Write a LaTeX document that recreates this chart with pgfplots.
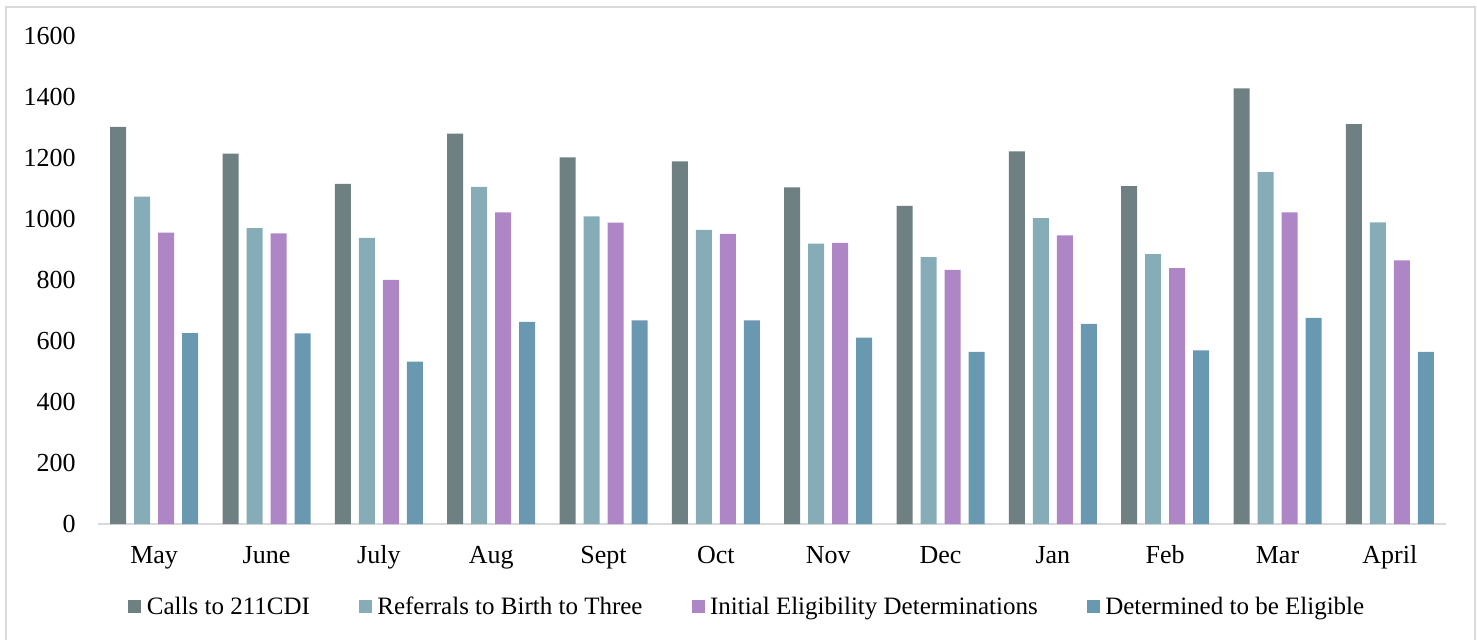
\documentclass[border=0pt]{standalone}
\usepackage{fontspec}
\setmainfont{Liberation Serif}
\usepackage{graphicx}
\usepackage{pgfplots}
\pgfplotsset{compat=1.18}
\definecolor{cCalls}{RGB}{111,128,130}
\definecolor{cRef}{RGB}{134,173,183}
\definecolor{cInit}{RGB}{175,134,197}
\definecolor{cDet}{RGB}{105,152,177}
\definecolor{frame}{RGB}{217,217,217}
\begin{document}
\begin{tikzpicture}
\path[use as bounding box] (0,0) rectangle (738.5pt,-320pt);
\draw[color=frame, line width=1pt] (3pt,-320pt) -- (3pt,-3.5pt) -- (737.5pt,-3.5pt) -- (737.5pt,-320pt);
\begin{axis}[
  at={(49pt,-262pt)}, anchor=south west,
  scale only axis, width=674pt, height=244pt,
  ymin=0, ymax=1600, xmin=-0.5, xmax=11.5,
  ybar=4pt, bar width=8pt,
  xtick={0,...,11},
  xticklabels={May,June,July,Aug,Sept,Oct,Nov,Dec,Jan,Feb,Mar,April},
  ytick={0,200,...,1600},
  major tick length=0pt,
  axis x line*=bottom, axis y line*=left,
  y axis line style={draw=none},
  x axis line style={draw=frame, line width=1pt},
  tick label style={font=\fontsize{13}{15}\selectfont},
  /pgf/number format/assume math mode=true,
  /pgf/number format/1000 sep={},
  xticklabel style={anchor=base, yshift=-19.5pt, inner sep=0pt},
  yticklabel style={anchor=east, xshift=-11pt, inner sep=0pt},
  legend style={at={(0.02226,-0.170)}, anchor=west, draw=none, fill=none,
    inner sep=0pt, legend columns=-1, font=\fontsize{12.5}{15}\selectfont,
    nodes={inner sep=0pt},
    /tikz/every odd column/.append style={column sep=2.75pt},
    /tikz/every even column/.append style={column sep=24.5pt}},
  legend image code/.code={\fill (0pt,-3.25pt) rectangle (6.5pt,3.25pt);},
]
\addplot[fill=cCalls, draw=none] coordinates {(0,1302) (1,1214) (2,1115) (3,1280) (4,1202) (5,1189) (6,1104) (7,1043) (8,1222) (9,1108) (10,1428) (11,1311)};
\addplot[fill=cRef, draw=none] coordinates {(0,1073) (1,970) (2,938) (3,1105) (4,1009) (5,964) (6,919) (7,875) (8,1003) (9,885) (10,1154) (11,989)};
\addplot[fill=cInit, draw=none] coordinates {(0,955) (1,953) (2,800) (3,1022) (4,988) (5,951) (6,922) (7,833) (8,946) (9,839) (10,1022) (11,864)};
\addplot[fill=cDet, draw=none] coordinates {(0,626) (1,625) (2,532) (3,663) (4,668) (5,668) (6,611) (7,564) (8,656) (9,569) (10,676) (11,564)};
\legend{Calls to 211CDI, Referrals to Birth to Three, Initial Eligibility Determinations, Determined to be Eligible}
\end{axis}
\end{tikzpicture}
\end{document}
